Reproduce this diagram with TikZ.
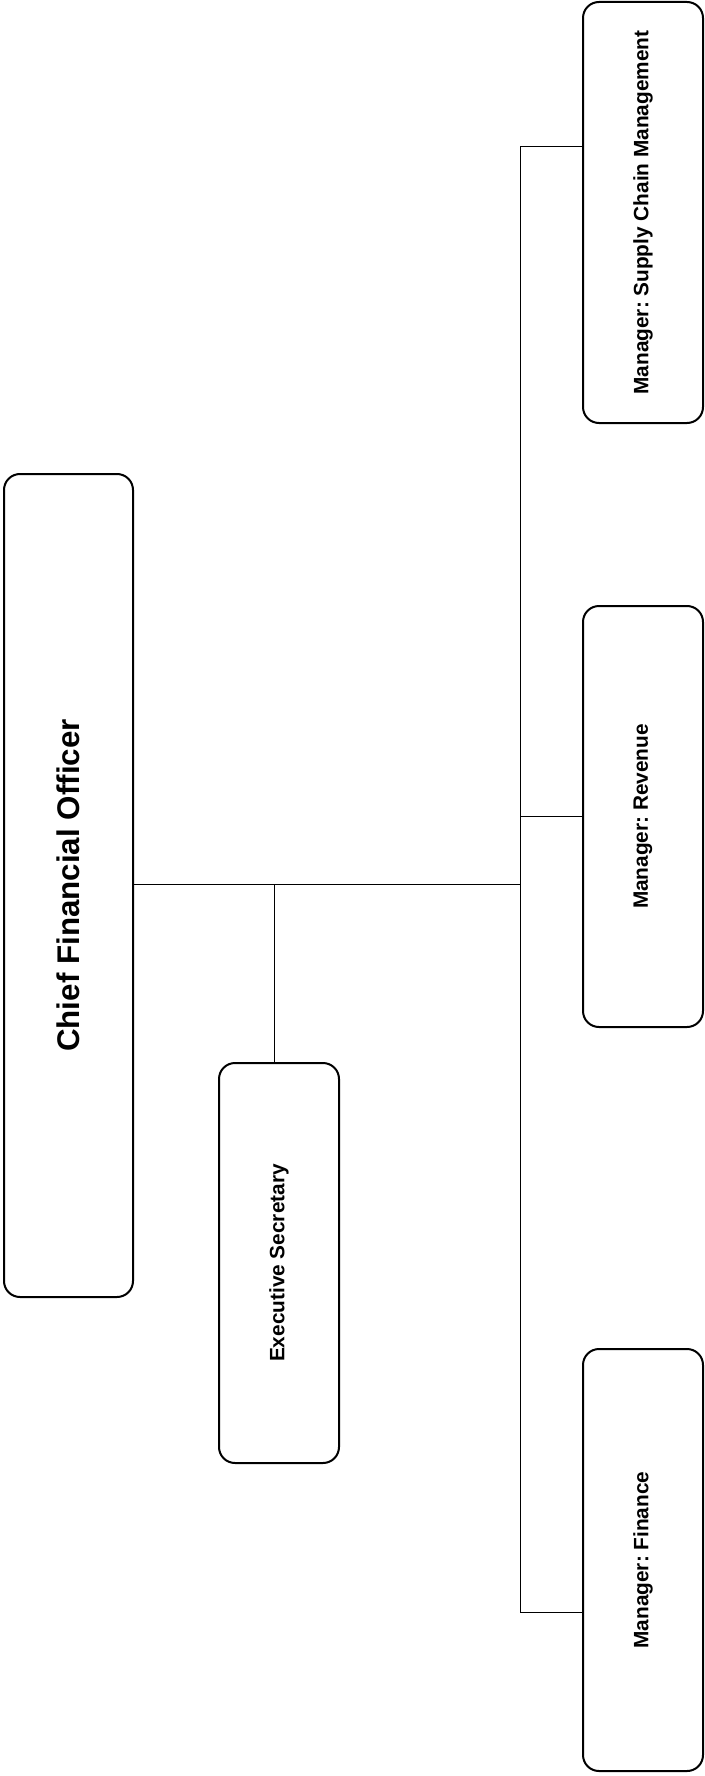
\documentclass[tikz,border=0pt]{standalone}
\usepackage{fontspec}
\setmainfont{Liberation Sans}
\usepackage{graphicx}
\frenchspacing

\begin{document}
\begin{tikzpicture}[x=0.75pt,y=-0.75pt,
    box/.style={draw=black,line width=1.5pt,rounded corners=12pt,inner sep=0pt,font=\bfseries\fontsize{15.6}{18}\selectfont},
    link/.style={draw=black,line width=0.75pt}]
                \useasboundingbox (0,0) rectangle (704,1776);

                \node[box,minimum width=96.75pt,minimum height=617.25pt,font=\bfseries\fontsize{23.5}{28}\selectfont] (cfo) at (68.5,885.5) {\rotatebox{90}{Chief Financial Officer}};
                \node[box,minimum width=90pt,minimum height=300pt] (sec) at (279,1263) {\rotatebox{90}{Executive Secretary}};
                \node[box,minimum width=90pt,minimum height=315.75pt] (scm) at (643,212.5) {\rotatebox{90}{Manager: Supply Chain Management}};
                \node[box,minimum width=90pt,minimum height=315.75pt] (rev) at (643,816.5) {\rotatebox{90}{Manager: Revenue}};
                \node[box,minimum width=90pt,minimum height=316.5pt] (fin) at (643,1560) {\rotatebox{90}{Manager: Finance}};

                \coordinate (hub) at (520,884);
                \coordinate (jsec) at (274,884);
                \coordinate (tscm) at (520,147);
                \coordinate (trev) at (520,816);
                \coordinate (tfin) at (520,1612);

                \draw [link] (cfo.east |- hub) -- (hub);
                \draw [link] (jsec) -- (jsec |- sec.north);
                \draw [link] (tscm) -- (tfin);
                \draw [link] (tscm) -- (tscm -| scm.west);
                \draw [link] (trev) -- (trev -| rev.west);
                \draw [link] (tfin) -- (tfin -| fin.west);
            \end{tikzpicture}
\end{document}
